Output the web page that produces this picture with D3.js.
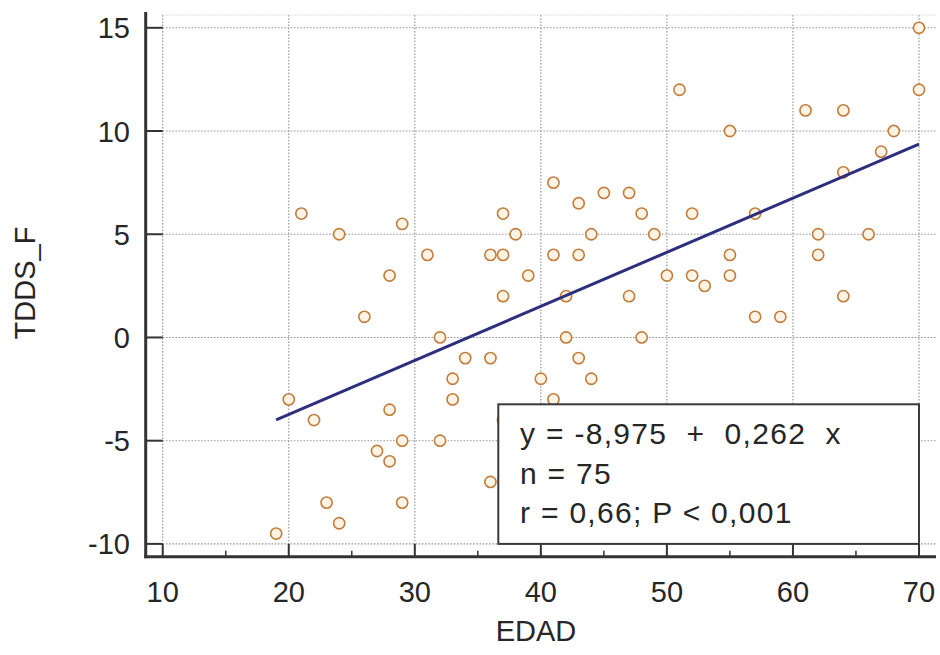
<!DOCTYPE html>
<html><head><meta charset="utf-8">
<script src="https://cdn.jsdelivr.net/npm/d3@7"></script>
<style>
body{margin:0;background:#fff;}
svg{display:block;font-family:"Liberation Sans",Arial,sans-serif;}
</style>
</head><body>
<svg id="c" width="940" height="655"></svg>
<script>
// ---- data ----
const edad = [21,24,29,28,31,37,38,36,37,39,37,
  70,51,70,61,64,55,68,67,64,41,43,45,47,48,52,57,44,49,62,66,41,43,55,62,50,52,53,55,42,47,64,57,59,42,48,43,40,44,41,
  26,32,34,36,33,33,20,28,22,29,32,27,28,36,23,29,24,19,37];
const tdds = [6,5,5.5,3,4,6,5,4,4,3,2,
  15,12,12,11,11,10,10,9,8,7.5,6.5,7,7,6,6,6,5,5,5,5,4,4,4,4,3,3,2.5,3,2,2,2,1,1,0,0,-1,-2,-2,-3,
  1,0,-1,-1,-2,-3,-3,-3.5,-4,-5,-5,-5.5,-6,-7,-8,-8,-9,-9.5,-4];
const xTicks = [10,20,30,40,50,60,70];
const xMinorTicks = [15,25,35,45,55,65];
const yTicks = [-10,-5,0,5,10,15];
const regIntercept = -8.975, regSlope = 0.262;
const statLines = ["y = -8,975  +  0,262  x", "n = 75", "r = 0,66; P < 0,001"];
const xLabel = "EDAD", yLabel = "TDDS_F";

// ---- scales ----
const x = d3.scaleLinear().domain([8.65, 71.35]).range([145.7, 936]);
const y = d3.scaleLinear().domain([-10.62, 15.62]).range([556.7, 15]);

const svg = d3.select("#c");
const axisCol = "#333";
const gridCol = "#8f8f8f";

// grid
const grid = svg.append("g").attr("stroke", gridCol).attr("stroke-width", 1.1).attr("stroke-dasharray", "1.5,1.7");
grid.selectAll("line.v").data(xTicks).join("line")
  .attr("x1", d => x(d)).attr("x2", d => x(d))
  .attr("y1", y(15.62)).attr("y2", y(-10));
grid.selectAll("line.h").data(yTicks).join("line")
  .attr("x1", x(10)).attr("x2", x(71.35))
  .attr("y1", d => y(d)).attr("y2", d => y(d));
grid.append("line").attr("x1", x(10)).attr("x2", x(71.35)).attr("y1", y(15.62)).attr("y2", y(15.62))
  .attr("stroke", "#ccc");

// points
const pts = edad.map((e, i) => [e, tdds[i]]);
svg.append("g").selectAll("circle").data(pts).join("circle")
  .attr("cx", d => x(d[0])).attr("cy", d => y(d[1])).attr("r", 5.6)
  .attr("fill", "#fff3e4").attr("stroke", "#c27c3c").attr("stroke-width", 1.6);

// regression line
const xr = d3.extent(edad);
svg.append("line")
  .attr("x1", x(xr[0])).attr("y1", y(regIntercept + regSlope * xr[0]))
  .attr("x2", x(xr[1])).attr("y2", y(regIntercept + regSlope * xr[1]))
  .attr("stroke", "#2e2e80").attr("stroke-width", 3);

// axes
const ax = svg.append("g").attr("stroke", axisCol);
ax.append("line").attr("x1", x(8.65)).attr("x2", x(8.65)).attr("y1", 12).attr("y2", y(-10.62) + 1.5).attr("stroke-width", 3);
ax.append("line").attr("x1", x(8.65) - 1.5).attr("x2", x(71.35)).attr("y1", y(-10.62)).attr("y2", y(-10.62)).attr("stroke-width", 3);
ax.selectAll("line.yt").data(yTicks).join("line")
  .attr("x1", x(8.65)).attr("x2", x(10)).attr("y1", d => y(d)).attr("y2", d => y(d)).attr("stroke-width", 2);
ax.selectAll("line.xt").data(xTicks).join("line")
  .attr("x1", d => x(d)).attr("x2", d => x(d)).attr("y1", y(-10.62)).attr("y2", y(-10)).attr("stroke-width", 2);
ax.selectAll("line.xm").data(xMinorTicks).join("line")
  .attr("x1", d => x(d)).attr("x2", d => x(d)).attr("y1", y(-10.62)).attr("y2", y(-10.62) - 6).attr("stroke-width", 1.5);

// tick labels
svg.append("g").selectAll("text").data(xTicks).join("text")
  .attr("x", d => x(d)).attr("y", 601.5).attr("text-anchor", "middle")
  .attr("font-size", 29).attr("fill", "#262626").text(d => d);
svg.append("g").selectAll("text").data(yTicks).join("text")
  .attr("x", 130).attr("y", d => y(d) + 10.5).attr("text-anchor", "end")
  .attr("font-size", 29).attr("fill", "#262626").text(d => d);

// axis titles
svg.append("text").attr("x", 536).attr("y", 641).attr("text-anchor", "middle")
  .attr("font-size", 29).attr("fill", "#262626").text(xLabel);
svg.append("text").attr("transform", "translate(35,283) rotate(-90)").attr("text-anchor", "middle")
  .attr("font-size", 29).attr("fill", "#262626").text(yLabel);

// stats box
const bx0 = 498.3, by0 = 404.3, bx1 = x(70), by1 = y(-10);
svg.append("rect").attr("x", bx0).attr("y", by0).attr("width", bx1 - bx0).attr("height", by1 - by0)
  .attr("fill", "#fff").attr("stroke", "#3a3a3a").attr("stroke-width", 2);
svg.append("g").selectAll("text").data(statLines).join("text")
  .attr("x", 520).attr("y", (d, i) => 444 + i * 39.5)
  .attr("font-size", 30).attr("fill", "#262626").style("white-space", "pre").attr("letter-spacing", 1.3)
  .text(d => d);
</script>
</body></html>
